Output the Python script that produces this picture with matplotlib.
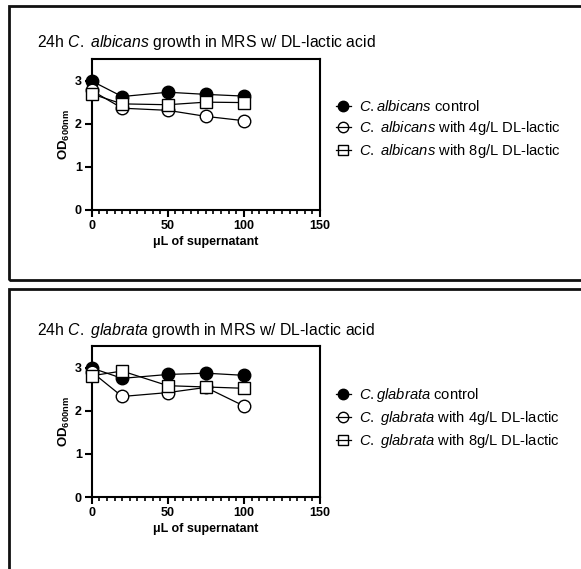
import matplotlib
matplotlib.use("Agg")
import matplotlib.pyplot as plt
from matplotlib.patches import Rectangle

plt.rcParams['font.family'] = ['Liberation Sans', 'DejaVu Sans']
plt.rcParams['mathtext.fontset'] = 'custom'
plt.rcParams['mathtext.rm'] = 'Liberation Sans'
plt.rcParams['mathtext.it'] = 'Liberation Sans:italic'
plt.rcParams['mathtext.bf'] = 'Liberation Sans:bold'

# data
volume = [0, 20, 50, 75, 100]

alb_control = [2.99, 2.63, 2.73, 2.68, 2.64]
alb_4g = [2.77, 2.36, 2.31, 2.17, 2.07]
alb_8g = [2.69, 2.46, 2.44, 2.50, 2.49]

gla_control = [2.99, 2.75, 2.84, 2.87, 2.82]
gla_4g = [2.90, 2.33, 2.42, 2.54, 2.11]
gla_8g = [2.81, 2.92, 2.58, 2.55, 2.52]

panels = [
    (r"24h $\mathit{C.\ albicans}$ growth in MRS w/ DL-lactic acid",
     [r"$\mathit{C.albicans}$ control",
      r"$\mathit{C.\ albicans}$ with 4g/L DL-lactic",
      r"$\mathit{C.\ albicans}$ with 8g/L DL-lactic"],
     [alb_control, alb_4g, alb_8g]),
    (r"24h $\mathit{C.\ glabrata}$ growth in MRS w/ DL-lactic acid",
     [r"$\mathit{C.glabrata}$ control",
      r"$\mathit{C.\ glabrata}$ with 4g/L DL-lactic",
      r"$\mathit{C.\ glabrata}$ with 8g/L DL-lactic"],
     [gla_control, gla_4g, gla_8g]),
]

W, H = 581, 569
fig = plt.figure(figsize=(W / 100, H / 100), dpi=100)

def fx(px):
    return px / W

def fy(py):
    return 1 - py / H

# panel boxes (pixel coordinates: top, bottom)
boxes = [(5.5, 280), (289, 640)]
for top, bot in boxes:
    fig.patches.append(Rectangle((fx(8.5), fy(bot)), fx(700), (bot - top) / H,
                                 transform=fig.transFigure, fill=False,
                                 edgecolor='#111111', linewidth=2, clip_on=False))

styles = [
    dict(marker='o', markerfacecolor='black', markeredgecolor='black'),
    dict(marker='o', markerfacecolor='white', markeredgecolor='black'),
    dict(marker='s', markerfacecolor='white', markeredgecolor='black'),
]

offsets = [0, 287]
for (title, labels, series), off in zip(panels, offsets):
    ax_top, ax_bot = 59 + off, 210 + off
    ax = fig.add_axes([fx(91.7), fy(ax_bot), fx(320 - 91.7), (ax_bot - ax_top) / H])
    handles = []
    for vals, st, lab in zip(series, styles, labels):
        ln, = ax.plot(volume, vals, color='black', linewidth=0.9,
                      markersize=9, markeredgewidth=1.0, label=lab,
                      clip_on=False, zorder=3, **st)
        handles.append(ln)
    ax.set_xlim(0, 150)
    ax.set_ylim(0, 3.5)
    ax.set_xticks([0, 50, 100, 150])
    ax.set_xticks(range(0, 151, 5), minor=True)
    ax.set_yticks([0, 1, 2, 3])
    for s in ax.spines.values():
        s.set_linewidth(1.5)
    ax.tick_params(which='major', direction='out', length=5, width=1.5,
                   labelsize=9, pad=2)
    ax.tick_params(which='minor', direction='out', length=3, width=1.2)
    ax.tick_params(axis='y', which='minor', left=False)
    for t in ax.get_xticklabels() + ax.get_yticklabels():
        t.set_fontweight('bold')
    ax.set_xlabel("μL of supernatant", fontsize=9, fontweight='bold', labelpad=3)
    ax.set_ylabel(r"$\mathbf{OD_{600nm}}$", fontsize=9.5, labelpad=2)

    fig.text(fx(37), fy(43 + off), title, fontsize=11.3, va='center', ha='left')

    leg = ax.legend(handles=handles, loc='upper left',
                    bbox_to_anchor=(fx(330), fy(93 + off)),
                    bbox_transform=fig.transFigure, frameon=False,
                    fontsize=10.6, handlelength=1.0, handletextpad=0.6,
                    labelspacing=0.36, borderaxespad=0)
    for i, h in enumerate(leg.legend_handles):
        h.set_markersize(7.5)
        if i > 0:
            h.set_markerfacecolor('none')

fig.savefig("out.png", dpi=100)
